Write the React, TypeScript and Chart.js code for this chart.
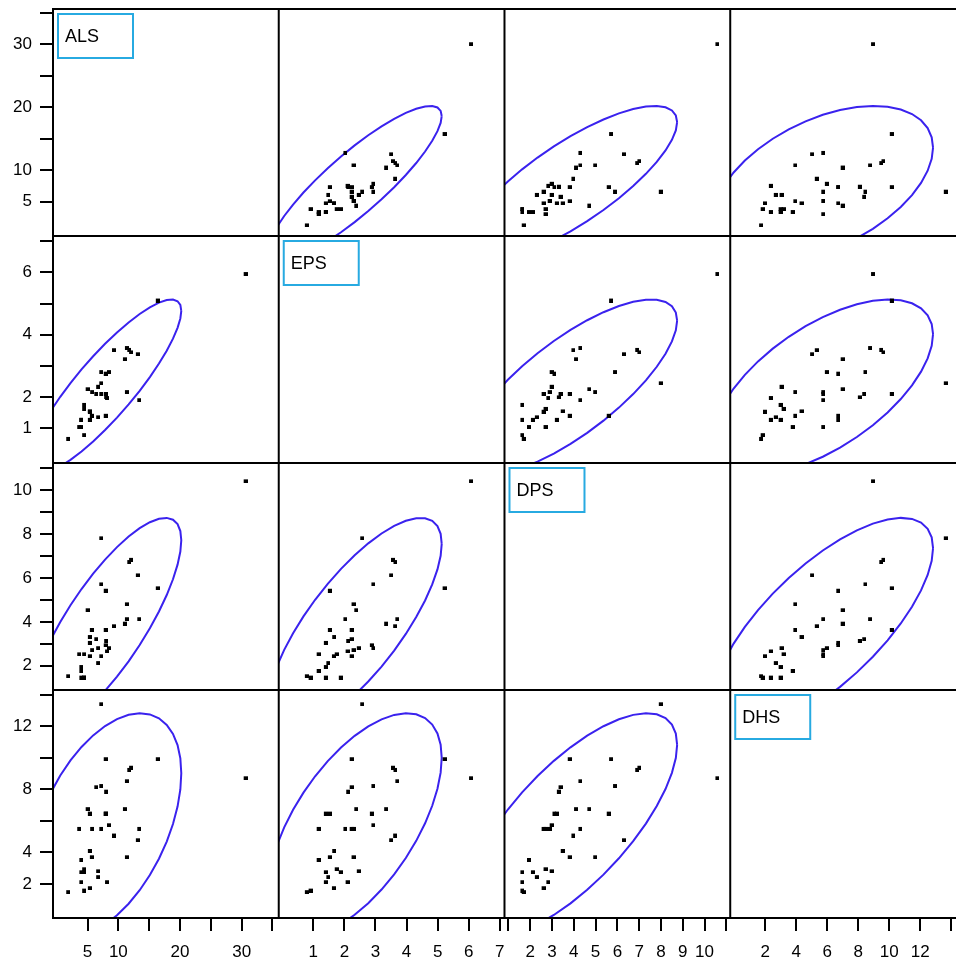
import { useEffect, useRef } from 'react';
import { Chart, registerables } from 'chart.js';

Chart.register(...registerables);

const VARIABLES = ['ALS', 'EPS', 'DPS', 'DHS'];

const ALS = [30.33, 16.07, 13.07, 12.84, 11.45, 11.75, 11.07, 11.07, 10.74, 8.97, 8.16, 7.84, 6.91, 6.91, 6.91, 7.63, 7.63, 7.63, 7.70, 6.40, 6.40, 6.10, 5.43, 5.38, 5.05, 5.05, 5.05, 4.70, 3.33, 4.13, 4.13, 4.13, 3.68, 3.68, 3.68, 1.55];
const EPS = [6.01, 5.16, 1.97, 3.44, 3.58, 3.50, 3.64, 2.23, 3.28, 3.57, 2.87, 2.04, 2.51, 2.87, 2.17, 2.82, 2.17, 1.47, 2.06, 2.40, 1.42, 2.17, 2.23, 1.47, 1.61, 1.34, 1.60, 2.32, 1.11, 1.69, 0.85, 1.82, 1.34, 1.11, 1.34, 0.73];
const DPS = [10.50, 5.62, 4.21, 6.21, 6.82, 6.92, 4.21, 4.89, 4.01, 3.89, 2.89, 2.74, 7.90, 5.80, 2.52, 3.02, 3.72, 5.51, 3.22, 2.89, 2.21, 3.30, 2.80, 3.72, 3.40, 3.13, 2.52, 4.62, 2.61, 2.61, 1.55, 1.55, 2.03, 1.85, 1.55, 1.61];
const DHS = [8.83, 10.04, 5.62, 4.90, 9.36, 9.50, 8.64, 3.82, 6.87, 5.20, 5.85, 2.24, 13.52, 8.34, 5.62, 6.59, 10.04, 6.59, 7.98, 2.93, 2.56, 8.26, 5.62, 3.82, 4.22, 6.59, 1.86, 6.87, 5.62, 3.06, 1.71, 2.87, 2.87, 3.65, 2.24, 1.61];

const ROW_MIN = [-0.45, -0.105, 0.892, -0.156];
const ROW_MAX = [35.61, 7.163, 11.245, 14.3];
const COL_MIN = [-0.597, -0.11, 0.818, -0.25];
const COL_MAX = [36.02, 7.15, 11.18, 14.05];

const ROW_TICKS = [
  [5, 10, 15, 20, 25, 30, 35],
  [1, 2, 3, 4, 5, 6, 7],
  [2, 3, 4, 5, 6, 7, 8, 9, 10, 11],
  [2, 4, 6, 8, 10, 12, 14],
];
const ROW_LABELS = [
  [5, 10, 20, 30],
  [1, 2, 4, 6],
  [2, 4, 6, 8, 10],
  [2, 4, 8, 12],
];
const COL_TICKS = [
  [5, 10, 15, 20, 25, 30, 35],
  [1, 2, 3, 4, 5, 6, 7],
  [1, 2, 3, 4, 5, 6, 7, 8, 9, 10, 11],
  [2, 4, 6, 8, 10, 12, 14],
];
const COL_LABELS = [
  [5, 10, 20, 30],
  [1, 2, 3, 4, 5, 6, 7],
  [2, 3, 4, 5, 6, 7, 8, 9, 10],
  [2, 4, 6, 8, 10, 12],
];

const COL_WEIGHTS = [227, 227, 227, 223];
const ROW_WEIGHTS = [227, 227, 227, 228];

const ELLIPSE_COLOR = '#3a22ee';
const LABEL_BOX_COLOR = '#27aae1';
const FONT_FAMILY = "'Liberation Sans', Arial, Helvetica, sans-serif";

function densityEllipse(xs: number[], ys: number[], segments = 40) {
  const n = xs.length;
  const mx = xs.reduce((a, b) => a + b, 0) / n;
  const my = ys.reduce((a, b) => a + b, 0) / n;
  let sxx = 0, syy = 0, sxy = 0;
  for (let i = 0; i < n; i++) {
    const dx = xs[i] - mx, dy = ys[i] - my;
    sxx += dx * dx; syy += dy * dy; sxy += dx * dy;
  }
  sxx /= n - 1; syy /= n - 1; sxy /= n - 1;
  const sx = Math.sqrt(sxx), sy = Math.sqrt(syy);
  const r = sxy / (sx * sy);
  const k = Math.sqrt(-2 * Math.log(0.05));
  const pts: { x: number; y: number }[] = [];
  for (let i = 0; i <= segments; i++) {
    const t = (2 * Math.PI * i) / segments;
    pts.push({
      x: mx + k * sx * Math.cos(t),
      y: my + k * sy * (r * Math.cos(t) + Math.sqrt(1 - r * r) * Math.sin(t)),
    });
  }
  return pts;
}

const panelPlugin = {
  id: 'panelPlugin',
  beforeDatasetDraw(chart: any, args: any) {
    const ds = chart.data.datasets[args.index];
    if (!ds.panelClip) return;
    const m = args.meta;
    const ctx = chart.ctx;
    ctx.save();
    ctx.beginPath();
    ctx.rect(m.xScale.left, m.yScale.top, m.xScale.right - m.xScale.left, m.yScale.bottom - m.yScale.top);
    ctx.clip();
  },
  afterDatasetDraw(chart: any, args: any) {
    const ds = chart.data.datasets[args.index];
    if (!ds.panelClip) return;
    chart.ctx.restore();
  },
  afterDraw(chart: any) {
    const ctx = chart.ctx;
    const xs = [0, 1, 2, 3].map((i) => chart.scales['x' + i]);
    const ys = [0, 1, 2, 3].map((i) => chart.scales['y' + i]);
    const left = xs[0].left, right = xs[3].right + 4;
    const top = ys[0].top, bottom = ys[3].bottom;
    ctx.save();
    ctx.strokeStyle = '#000';
    ctx.lineWidth = 2;
    ctx.beginPath();
    [ys[0].top, ys[1].top, ys[2].top, ys[3].top, ys[3].bottom].forEach((y: number) => {
      ctx.moveTo(left - 1, y);
      ctx.lineTo(right, y);
    });
    [xs[0].left, xs[1].left, xs[2].left, xs[3].left].forEach((x: number) => {
      ctx.moveTo(x, top - 1);
      ctx.lineTo(x, bottom + 1);
    });
    ctx.stroke();
    // diagonal variable labels
    ctx.strokeStyle = LABEL_BOX_COLOR;
    ctx.lineWidth = 2;
    ctx.fillStyle = '#000';
    ctx.font = `18px ${FONT_FAMILY}`;
    ctx.textAlign = 'left';
    ctx.textBaseline = 'alphabetic';
    for (let i = 0; i < 4; i++) {
      const bx = xs[i].left + 5;
      const by = ys[i].top + 5;
      ctx.strokeRect(bx, by, 75, 44);
      ctx.fillText(VARIABLES[i], bx + 7, by + 27.5);
    }
    ctx.restore();
  },
};

function makeMarker() {
  const c = document.createElement('canvas');
  c.width = 8;
  c.height = 8;
  const g = c.getContext('2d')!;
  g.fillStyle = '#000';
  g.fillRect(4, 4, 4, 4);
  return c;
}

export default function App() {
  const ref = useRef<HTMLCanvasElement>(null);

  useEffect(() => {
    const VARS = [ALS, EPS, DPS, DHS];
    const marker = makeMarker();
    const datasets: any[] = [];
    for (let r = 0; r < 4; r++) {
      for (let c = 0; c < 4; c++) {
        if (r === c) continue;
        datasets.push({
          label: `${VARIABLES[c]} vs ${VARIABLES[r]}`,
          data: VARS[c].map((x, i) => ({ x, y: VARS[r][i] })),
          xAxisID: 'x' + c,
          yAxisID: 'y' + r,
          pointStyle: marker,
          pointRadius: 4,
          pointHoverRadius: 4,
          backgroundColor: '#000',
          borderColor: '#000',
          showLine: false,
        });
        datasets.push({
          label: `ellipse ${VARIABLES[c]} ${VARIABLES[r]}`,
          data: densityEllipse(VARS[c], VARS[r]),
          xAxisID: 'x' + c,
          yAxisID: 'y' + r,
          showLine: true,
          pointRadius: 0,
          borderColor: ELLIPSE_COLOR,
          borderWidth: 2,
          fill: false,
          tension: 0,
          clip: false,
          panelClip: true,
        });
      }
    }

    const scales: any = {};
    for (let i = 0; i < 4; i++) {
      const colTicks = COL_TICKS[i];
      const colLabels = COL_LABELS[i];
      scales['x' + i] = {
        type: 'linear',
        position: 'bottom',
        stack: 'cols',
        stackWeight: COL_WEIGHTS[i],
        weight: i + 1,
        min: COL_MIN[i],
        max: COL_MAX[i],
        afterBuildTicks: (s: any) => {
          s.ticks = colTicks.map((v) => ({ value: v }));
        },
        afterFit: (s: any) => {
          s.height = 41;
          s.paddingLeft = 0; s.paddingRight = 0; s.paddingTop = 0; s.paddingBottom = 0;
        },
        grid: { display: true, drawOnChartArea: false, drawTicks: true, tickLength: 13, color: '#000', lineWidth: 2 },
        border: { display: false },
        ticks: {
          autoSkip: false,
          maxRotation: 0,
          color: '#000',
          padding: 11,
          font: { size: 17, family: FONT_FAMILY },
          callback: (v: any) => (colLabels.includes(Number(v)) ? String(v) : ''),
        },
      };
      const rowTicks = ROW_TICKS[i];
      const rowLabels = ROW_LABELS[i];
      scales['y' + i] = {
        type: 'linear',
        position: 'left',
        stack: 'rows',
        stackWeight: ROW_WEIGHTS[i],
        weight: 4 - i,
        min: ROW_MIN[i],
        max: ROW_MAX[i],
        afterBuildTicks: (s: any) => {
          s.ticks = rowTicks.map((v) => ({ value: v }));
        },
        afterFit: (s: any) => {
          s.width = 53;
          s.paddingLeft = 0; s.paddingRight = 0; s.paddingTop = 0; s.paddingBottom = 0;
        },
        grid: { display: true, drawOnChartArea: false, drawTicks: true, tickLength: 13, color: '#000', lineWidth: 2 },
        border: { display: false },
        ticks: {
          autoSkip: false,
          color: '#000',
          padding: 8,
          font: { size: 17, family: FONT_FAMILY },
          callback: (v: any) => (rowLabels.includes(Number(v)) ? String(v) : ''),
        },
      };
    }

    const chart = new Chart(ref.current!, {
      type: 'scatter',
      data: { datasets },
      options: {
        responsive: false,
        animation: false,
        devicePixelRatio: 1,
        events: [],
        layout: { padding: { top: 9, left: 0, right: 0, bottom: 0 } },
        plugins: { legend: { display: false }, tooltip: { enabled: false } },
        scales,
      } as any,
      plugins: [panelPlugin as any],
    });
    return () => chart.destroy();
  }, []);

  return (
    <div style={{ position: 'absolute', left: 0, top: 0, width: 957, height: 959, overflow: 'hidden', background: '#fff' }}>
      <canvas ref={ref} width={957} height={959} style={{ display: 'block', width: 957, height: 959 }} />
    </div>
  );
}
